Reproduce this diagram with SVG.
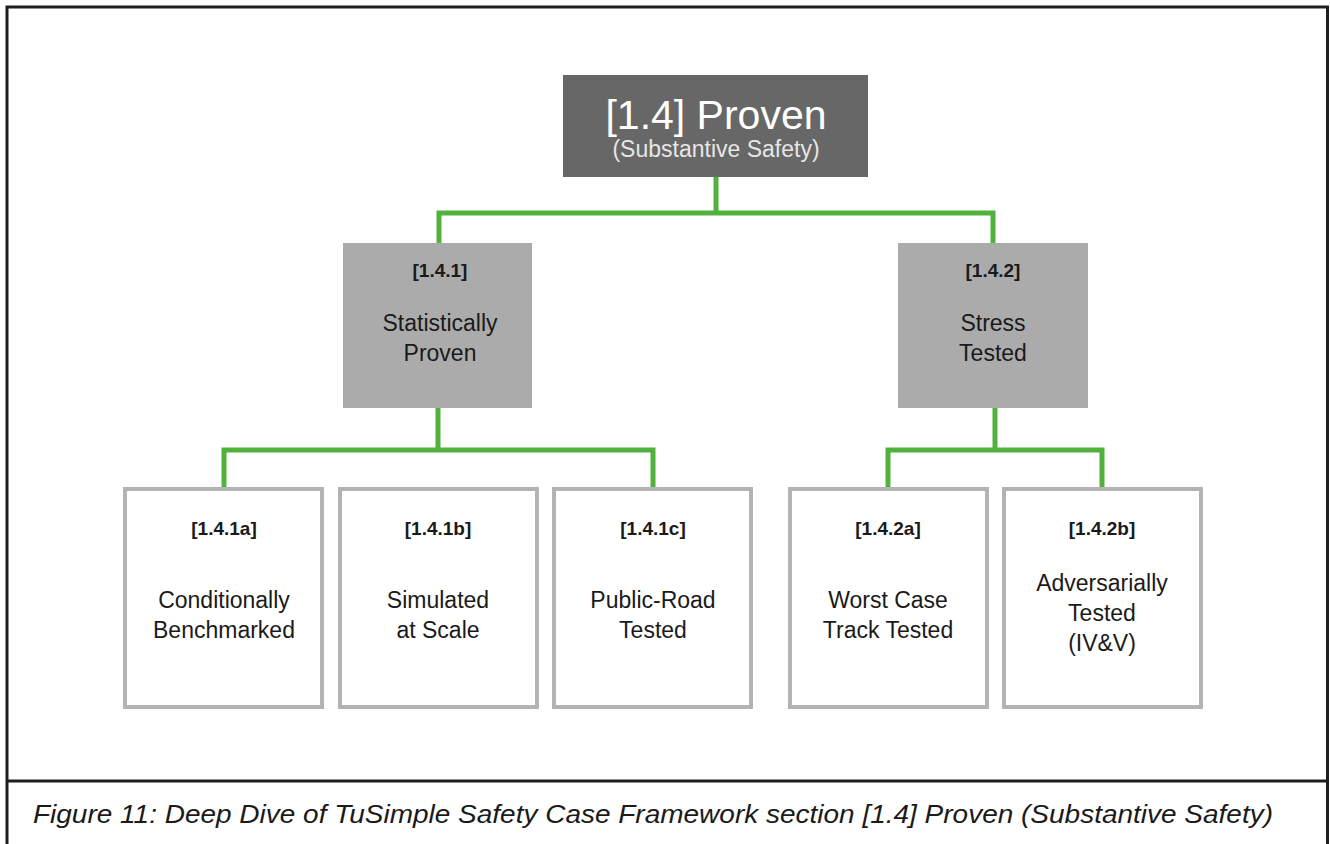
<svg xmlns="http://www.w3.org/2000/svg" width="1330" height="844" viewBox="0 0 1330 844">
  <style>
    .frame { fill: none; stroke: #1e1e1e; stroke-width: 3; }
    .wire { fill: none; stroke: #50b23c; stroke-width: 5; stroke-linejoin: miter; }
    .top { fill: #676767; }
    .mid { fill: #ababab; }
    .leaf { fill: #ffffff; stroke: #b3b3b3; stroke-width: 4; }
    text { font-family: "Liberation Sans", Arial, sans-serif; text-anchor: middle; fill: #1a1a1a; }
    .title { font-size: 41px; fill: #ffffff; }
    .sub { font-size: 23px; fill: #e6e6e6; }
    .id { font-size: 19px; font-weight: bold; }
    .body { font-size: 23px; }
    .caption { font-size: 25px; font-style: italic; }
  </style>

  <rect width="1330" height="844" fill="#ffffff"/>

  <!-- page frame and caption divider -->
  <g id="frame">
    <path class="frame" d="M7 850 V7 H1327.5 V850"/>
    <line class="frame" x1="7" y1="781" x2="1327.5" y2="781"/>
  </g>

  <!-- tree connectors -->
  <g id="connectors">
    <path class="wire" d="M716 177 V213 M439 243 V213 H993 V243"/>
    <path class="wire" d="M438 408 V450 M224 487 V450 H653 V487"/>
    <path class="wire" d="M995 408 V450 M888 487 V450 H1102 V487"/>
  </g>

  <g id="n1-4">
    <rect class="top" x="563" y="75" width="305" height="102"/>
    <text class="title" x="716" y="129">[1.4] Proven</text>
    <text class="sub" x="716" y="157">(Substantive Safety)</text>
  </g>

  <g id="n1-4-1">
    <rect class="mid" x="343" y="243" width="189" height="165"/>
    <text class="id" x="440" y="277">[1.4.1]</text>
    <text class="body" x="440" y="331">Statistically</text>
    <text class="body" x="440" y="361">Proven</text>
  </g>

  <g id="n1-4-2">
    <rect class="mid" x="898" y="243" width="190" height="165"/>
    <text class="id" x="993" y="277">[1.4.2]</text>
    <text class="body" x="993" y="331">Stress</text>
    <text class="body" x="993" y="361">Tested</text>
  </g>

  <g id="n1-4-1a">
    <rect class="leaf" x="125" y="489" width="197" height="218"/>
    <text class="id" x="224" y="535">[1.4.1a]</text>
    <text class="body" x="224" y="608">Conditionally</text>
    <text class="body" x="224" y="638">Benchmarked</text>
  </g>

  <g id="n1-4-1b">
    <rect class="leaf" x="340" y="489" width="197" height="218"/>
    <text class="id" x="438" y="535">[1.4.1b]</text>
    <text class="body" x="438" y="608">Simulated</text>
    <text class="body" x="438" y="638">at Scale</text>
  </g>

  <g id="n1-4-1c">
    <rect class="leaf" x="554" y="489" width="197" height="218"/>
    <text class="id" x="653" y="535">[1.4.1c]</text>
    <text class="body" x="653" y="608">Public-Road</text>
    <text class="body" x="653" y="638">Tested</text>
  </g>

  <g id="n1-4-2a">
    <rect class="leaf" x="790" y="489" width="197" height="218"/>
    <text class="id" x="888" y="535">[1.4.2a]</text>
    <text class="body" x="888" y="608">Worst Case</text>
    <text class="body" x="888" y="638">Track Tested</text>
  </g>

  <g id="n1-4-2b">
    <rect class="leaf" x="1004" y="489" width="197" height="218"/>
    <text class="id" x="1102" y="535">[1.4.2b]</text>
    <text class="body" x="1102" y="591">Adversarially</text>
    <text class="body" x="1102" y="621">Tested</text>
    <text class="body" x="1102" y="651">(IV&amp;V)</text>
  </g>

  <g id="caption">
    <text class="caption" x="653" y="823" textLength="1240" lengthAdjust="spacingAndGlyphs">Figure 11: Deep Dive of TuSimple Safety Case Framework section [1.4] Proven (Substantive Safety)</text>
  </g>
</svg>
